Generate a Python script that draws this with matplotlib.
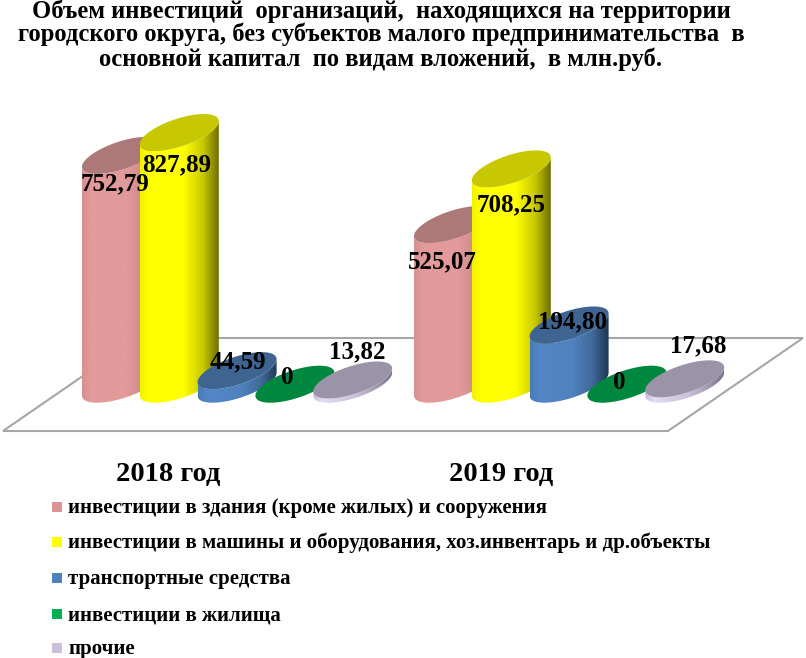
import matplotlib
matplotlib.use('Agg')
import matplotlib.pyplot as plt
import numpy as np
from matplotlib.colors import LinearSegmentedColormap
from matplotlib.path import Path
from matplotlib.patches import Polygon, Rectangle

plt.rcParams['font.family'] = ['Liberation Serif', 'DejaVu Serif']
plt.rcParams['font.weight'] = 'bold'

years = ['2018 год', '2019 год']
series_names = ['инвестиции в здания (кроме жилых) и сооружения',
                'инвестиции в машины и оборудования, хоз.инвентарь и др.объекты',
                'транспортные средства',
                'инвестиции в жилища',
                'прочие']
values_2018 = [752.79, 827.89, 44.59, 0, 13.82]
values_2019 = [525.07, 708.25, 194.80, 0, 17.68]
labels_2018 = ['752,79', '827,89', '44,59', '0', '13,82']
labels_2019 = ['525,07', '708,25', '194,80', '0', '17,68']
title_lines = ['Объем инвестиций  организаций,  находящихся на территории',
               'городского округа, без субъектов малого предпринимательства  в',
               'основной капитал  по видам вложений,  в млн.руб.']

# цвета цилиндров: бок (слева направо), верх, квадрат легенды
side_colors = [['#d69292', '#e39a9a', '#e39a9a', '#cb8a8a', '#b87a7a'],
               ['#f2f200', '#ffff00', '#ffff00', '#c8c800', '#6e6e00'],
               ['#4a7ab4', '#5487c8', '#4f81bd', '#3f6898', '#1f3550'],
               ['#00a050', '#00a050', '#00a050', '#00a050', '#00a050'],
               ['#c8c0dc', '#e2dbf2', '#ccc1da', '#a49ab0', '#77708a']]
top_colors = ['#ad7878', '#c8c800', '#3e6491', '#00873f', '#9b93a8']
legend_colors = ['#d99694', '#ffff00', '#4f81bd', '#00b050', '#ccc1da']
stops = [0, 0.12, 0.55, 0.8, 1]

# геометрия в пикселях исходной картинки
px_per_unit = 0.304
base_y = 384.2
half_w = 39.5
lift = 11.5
half_h = 14.5
group_left = [82, 414]
step = 57.8

offsets_2018 = [(-6, 28), (-3, 32), (1, -9), (-8, -7), (4.5, -28)]
offsets_2019 = [(-11, 37), (0, 36), (3.5, -3), (-8, -2), (13.5, -33)]

fig = plt.figure(figsize=(8.06, 6.58), dpi=100)
ax = fig.add_axes([0, 0, 1, 1])
ax.set_axis_off()
ax.set_autoscale_on(False)
ax.set_xlim(0, 806)
ax.set_ylim((base_y - 658) / px_per_unit, base_y / px_per_unit)

over = fig.add_axes([0, 0, 1, 1])
over.set_axis_off()
over.patch.set_alpha(0)
over.set_xlim(0, 806)
over.set_ylim(658, 0)


def to_val(y_px):
    return (base_y - y_px) / px_per_unit


# пол диаграммы
floor = [(3, 431), (668, 431), (803, 338), (138, 338)]
ax.add_patch(Polygon([(x, to_val(y)) for x, y in floor], closed=True, fc='white',
                     ec='#a6a6a6', lw=1.5, zorder=1))


def ellipse_xy(cx, level, t):
    x = cx + half_w * np.cos(t)
    y = level + (lift * np.cos(t) + half_h * np.sin(t)) / px_per_unit
    return x, y


def draw_cylinder(cx, value, i, z):
    t_low = np.linspace(np.pi, 2 * np.pi, 80)
    x0, y0 = ellipse_xy(cx, 0, t_low)
    x1, y1 = ellipse_xy(cx, value, t_low[::-1])
    verts = np.column_stack([np.r_[x0, x1], np.r_[y0, y1]])
    cmap = LinearSegmentedColormap.from_list('side', list(zip(stops, side_colors[i])))
    grad = np.linspace(0, 1, 256).reshape(1, -1)
    ymin = verts[:, 1].min()
    ymax = verts[:, 1].max()
    if value > 0:
        im = ax.imshow(grad, extent=[cx - half_w, cx + half_w, ymin, ymax], aspect='auto',
                       cmap=cmap, zorder=z, interpolation='bilinear')
        im.set_clip_path(Path(np.vstack([verts, verts[0]]), closed=True), transform=ax.transData)
    t = np.linspace(0, 2 * np.pi, 160)
    xt, yt = ellipse_xy(cx, value, t)
    ax.add_patch(Polygon(np.column_stack([xt, yt]), closed=True, fc=top_colors[i], ec='none',
                         zorder=z + 0.5))


for g, vals in enumerate([values_2018, values_2019]):
    for i, v in enumerate(vals):
        draw_cylinder(group_left[g] + half_w + i * step, v, i, 2 + g * 10 + i)

# подписи значений
for g, (vals, labs, offs) in enumerate(zip([values_2018, values_2019], [labels_2018, labels_2019],
                                           [offsets_2018, offsets_2019])):
    for i, (v, lab, off) in enumerate(zip(vals, labs, offs)):
        cx = group_left[g] + half_w + i * step
        ax.annotate(lab, (cx, v), xytext=(off[0] * 0.72, -off[1] * 0.72), textcoords='offset points',
                    ha='center', va='center', fontsize=18, color='black', zorder=40)

for line, y in zip(title_lines, [11, 34, 59]):
    over.text(381, y, line, ha='center', va='center', fontsize=17.7, color='black')

for year, x in zip(years, [168, 501]):
    over.text(x, 475, year, ha='center', va='center', fontsize=20.5, color='black')

for name, color, y in zip(series_names, legend_colors, [508, 543, 579, 615, 649]):
    over.add_patch(Rectangle((52, y - 6), 10, 10, fc=color, ec='none'))
    over.text(68, y, name, ha='left', va='center', fontsize=15, color='black')

fig.savefig('out.png', dpi=100, facecolor='white')
